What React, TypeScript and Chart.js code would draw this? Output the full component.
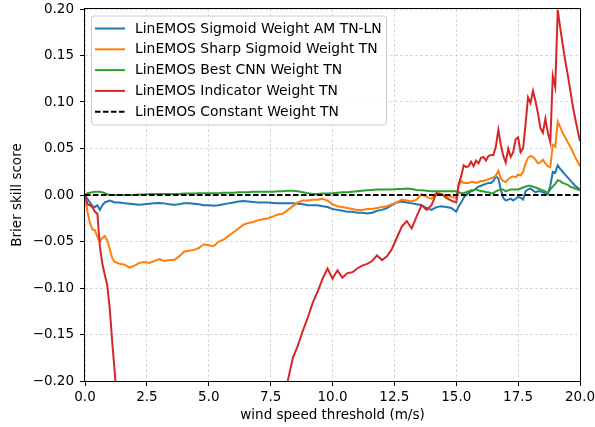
import React, { useEffect, useRef } from "react";
import { Chart, registerables } from "chart.js";

Chart.register(...registerables);

const thresholds = [
  0, 0.1, 0.2, 0.3, 0.4, 0.5, 0.6, 0.7, 0.8, 0.9, 1.0, 1.1, 1.2, 1.3, 1.4,
  1.6, 1.8, 2.0, 2.2, 2.4, 2.6, 2.8, 3.0, 3.2, 3.4,
  3.6, 3.8, 4.0, 4.2, 4.4, 4.6, 4.8, 5.0, 5.2, 5.4,
  5.6, 5.8, 6.0, 6.2, 6.4, 6.6, 6.8, 7.0, 7.2, 7.4,
  7.6, 7.8, 8.0, 8.2, 8.4, 8.6, 8.8, 9.0, 9.2, 9.4,
  9.6, 9.8, 10.0, 10.2, 10.4, 10.6, 10.8, 11.0, 11.2, 11.4,
  11.6, 11.8, 12.0, 12.2, 12.4, 12.6, 12.8, 13.0, 13.2, 13.4,
  13.6, 13.8, 14.0, 14.2, 14.4, 14.6, 14.8, 15.0,
  15.1, 15.2, 15.3, 15.4, 15.5, 15.6, 15.7, 15.8, 15.9, 16.0,
  16.1, 16.2, 16.3, 16.4, 16.5, 16.6, 16.7, 16.8, 16.9, 17.0,
  17.1, 17.2, 17.3, 17.4, 17.5, 17.6, 17.7, 17.8, 17.9, 18.0,
  18.1, 18.2, 18.3, 18.4, 18.5, 18.6, 18.7, 18.8, 18.9, 19.0,
  19.1, 19.2, 19.3, 19.4, 19.5, 19.6, 19.7, 19.8, 19.9, 20.0,
];

const sigmoidAM = [
  0, -0.004, -0.008, -0.012, -0.013, -0.011, -0.016, -0.011, -0.008, -0.007, -0.006, -0.007, -0.008, -0.008, -0.008,
  -0.009, -0.0095, -0.01, -0.0105, -0.01, -0.0095, -0.009, -0.0085, -0.009, -0.01,
  -0.0105, -0.01, -0.009, -0.009, -0.0095, -0.01, -0.011, -0.011, -0.0115, -0.011,
  -0.01, -0.009, -0.008, -0.007, -0.0065, -0.007, -0.0075, -0.008, -0.008, -0.008,
  -0.0085, -0.009, -0.009, -0.009, -0.009, -0.0095, -0.01, -0.011, -0.011, -0.011,
  -0.012, -0.013, -0.015, -0.016, -0.017, -0.018, -0.018, -0.019, -0.019, -0.02,
  -0.019, -0.017, -0.016, -0.014, -0.011, -0.008, -0.007, -0.008, -0.009, -0.01,
  -0.011, -0.014, -0.016, -0.013, -0.012, -0.013, -0.014, -0.018,
  -0.012, -0.008, -0.003, 0.0, 0.002, 0.004, 0.005, 0.007, 0.009, 0.01,
  0.011, 0.012, 0.013, 0.013, 0.015, 0.02, 0.018, 0.006, -0.003, -0.006,
  -0.005, -0.004, -0.006, -0.004, -0.002, -0.003, -0.005, 0.004, 0.006, 0.007,
  0.005, 0.003, 0.004, 0.004, 0.003, 0.002, 0.001, 0.01, 0.025, 0.024,
  0.032, 0.028, 0.025, 0.022, 0.019, 0.016, 0.013, 0.01, 0.008, 0.005,
];

const sharpSigmoid = [
  0, -0.018, -0.03, -0.037, -0.038, -0.045, -0.05, -0.046, -0.044, -0.049, -0.058, -0.068, -0.072, -0.073, -0.074,
  -0.075, -0.078, -0.076, -0.073, -0.072, -0.073, -0.071, -0.069, -0.071, -0.07,
  -0.07, -0.066, -0.061, -0.06, -0.059, -0.057, -0.053, -0.054, -0.055, -0.05,
  -0.048, -0.044, -0.04, -0.036, -0.032, -0.03, -0.029, -0.027, -0.026, -0.025,
  -0.023, -0.021, -0.02, -0.016, -0.012, -0.008, -0.006, -0.006, -0.005, -0.005,
  -0.004, -0.006, -0.01, -0.012, -0.013, -0.014, -0.015, -0.016, -0.016, -0.015,
  -0.015, -0.014, -0.013, -0.012, -0.01, -0.008, -0.005, -0.006, -0.007, -0.005,
  0.001, -0.002, -0.004, 0.002, 0.001, -0.001, -0.002, -0.003,
  0.01, 0.015, 0.013, 0.013, 0.013, 0.014, 0.014, 0.013, 0.014, 0.015,
  0.015, 0.016, 0.017, 0.018, 0.019, 0.021, 0.026, 0.018, 0.015, 0.014,
  0.017, 0.019, 0.02, 0.019, 0.022, 0.021, 0.025, 0.034, 0.04, 0.042,
  0.041, 0.038, 0.034, 0.035, 0.038, 0.034, 0.031, 0.03, 0.054, 0.052,
  0.079, 0.073, 0.067, 0.062, 0.057, 0.052, 0.047, 0.041, 0.036, 0.031,
];

const bestCNN = [
  0, 0.002, 0.0025, 0.003, 0.0035, 0.0035, 0.0035, 0.003, 0.002, 0.001, 0.0, 0.0, 0.0, 0.0, 0.0,
  0.0, 0.0, 0.0, 0.0005, 0.0005, 0.001, 0.001, 0.001, 0.001, 0.001,
  0.001, 0.001, 0.0015, 0.0015, 0.0015, 0.002, 0.002, 0.002, 0.002, 0.002,
  0.0025, 0.0025, 0.0025, 0.003, 0.003, 0.003, 0.0035, 0.0035, 0.0035, 0.0035,
  0.0035, 0.004, 0.004, 0.0045, 0.0045, 0.004, 0.003, 0.002, 0.001, 0.0012,
  0.0015, 0.0015, 0.002, 0.0025, 0.003, 0.003, 0.0035, 0.004, 0.0045, 0.005,
  0.0055, 0.006, 0.006, 0.006, 0.006, 0.0065, 0.0065, 0.007, 0.0065, 0.0055,
  0.005, 0.0045, 0.004, 0.004, 0.004, 0.004, 0.004, 0.004,
  0.003, 0.002, 0.002, 0.003, 0.004, 0.005, 0.005, 0.006, 0.005, 0.004,
  0.004, 0.003, 0.003, 0.002, 0.002, 0.004, 0.005, 0.006, 0.006, 0.004,
  0.005, 0.006, 0.006, 0.006, 0.006, 0.007, 0.008, 0.009, 0.01, 0.01,
  0.009, 0.008, 0.007, 0.006, 0.005, 0.004, 0.002, 0.006, 0.009, 0.012,
  0.016, 0.015, 0.013, 0.012, 0.011, 0.009, 0.008, 0.007, 0.006, 0.005,
];

const indicator = [
  0, -0.01, -0.011, -0.013, -0.018, -0.02, -0.055, -0.074, -0.086, -0.097, -0.122, -0.158, -0.19, -0.225, -0.26,
  -0.3, -0.34, -0.37, -0.4, -0.42, -0.44, -0.45, -0.46, -0.46, -0.46,
  -0.46, -0.46, -0.46, -0.45, -0.45, -0.44, -0.44, -0.43, -0.42, -0.41,
  -0.4, -0.39, -0.38, -0.36, -0.35, -0.34, -0.32, -0.3, -0.28, -0.265,
  -0.25, -0.235, -0.218, -0.199, -0.175, -0.162, -0.146, -0.132, -0.116, -0.104,
  -0.09, -0.079, -0.09, -0.081, -0.089, -0.084, -0.083, -0.079, -0.076, -0.074,
  -0.071, -0.065, -0.07, -0.066, -0.058, -0.046, -0.034, -0.028, -0.036, -0.023,
  -0.011, -0.016, -0.011, 0.002, 0.001, -0.003, -0.006, -0.008,
  0.012, 0.02, 0.032, 0.03, 0.031, 0.036, 0.031, 0.037, 0.034, 0.04,
  0.041, 0.037, 0.042, 0.043, 0.043, 0.052, 0.07, 0.054, 0.042, 0.035,
  0.05, 0.041, 0.046, 0.06, 0.062, 0.046, 0.05, 0.076, 0.105, 0.099,
  0.112, 0.101, 0.088, 0.072, 0.067, 0.082, 0.067, 0.057, 0.128, 0.116,
  0.199, 0.18, 0.162, 0.145, 0.13, 0.114, 0.097, 0.083, 0.07, 0.058,
];

const constantX = [0, 20];
const constantWeight = [0, 0];

const seriesLabels = [
  "LinEMOS Sigmoid Weight AM TN-LN",
  "LinEMOS Sharp Sigmoid Weight TN",
  "LinEMOS Best CNN Weight TN",
  "LinEMOS Indicator Weight TN",
  "LinEMOS Constant Weight TN",
];
const seriesColors = ["#1f77b4", "#ff7f0e", "#2ca02c", "#d62728", "#000000"];

const xTicks = [0, 2.5, 5, 7.5, 10, 12.5, 15, 17.5, 20];
const yTicks = [-0.2, -0.15, -0.1, -0.05, 0, 0.05, 0.1, 0.15, 0.2];

const FONT = "DejaVu Sans";
const FS = 13.5;
const LEGEND_FS = 13.9;

const toPoints = (xs: number[], ys: number[]) => xs.map((x, i) => ({ x, y: ys[i] }));

const framePlugin = {
  id: "frameAndLegend",
  afterDraw(chart: any) {
    const { ctx, chartArea } = chart;
    const { left, top, right, bottom } = chartArea;
    ctx.save();
    ctx.strokeStyle = "#000";
    ctx.lineWidth = 1;
    ctx.setLineDash([]);
    const l = Math.round(left) - 0.5;
    const t = Math.round(top) - 0.5;
    const r = Math.round(right) + 0.5;
    const b = Math.round(bottom) + 0.5;
    ctx.strokeRect(l, t, r - l, b - t);

    // legend box
    const bx = left + 6.5;
    const by = top + 7;
    const bw = 295;
    const bh = 109;
    const rad = 3;
    ctx.beginPath();
    ctx.moveTo(bx + rad, by);
    ctx.lineTo(bx + bw - rad, by);
    ctx.arcTo(bx + bw, by, bx + bw, by + rad, rad);
    ctx.lineTo(bx + bw, by + bh - rad);
    ctx.arcTo(bx + bw, by + bh, bx + bw - rad, by + bh, rad);
    ctx.lineTo(bx + rad, by + bh);
    ctx.arcTo(bx, by + bh, bx, by + bh - rad, rad);
    ctx.lineTo(bx, by + rad);
    ctx.arcTo(bx, by, bx + rad, by, rad);
    ctx.closePath();
    ctx.fillStyle = "rgba(255,255,255,0.8)";
    ctx.fill();
    ctx.strokeStyle = "#cccccc";
    ctx.lineWidth = 1;
    ctx.stroke();

    ctx.font = `${LEGEND_FS}px "${FONT}"`;
    ctx.textBaseline = "middle";
    ctx.textAlign = "left";
    chart.data.datasets.forEach((ds: any, i: number) => {
      const y = by + 12.5 + i * 20.8;
      ctx.beginPath();
      ctx.strokeStyle = ds.borderColor;
      ctx.lineWidth = 2;
      ctx.setLineDash(ds.borderDash || []);
      ctx.moveTo(left + 10, y);
      ctx.lineTo(left + 40, y);
      ctx.stroke();
      ctx.setLineDash([]);
      ctx.fillStyle = "#000";
      ctx.fillText(ds.label, left + 50, y + 0.5);
    });
    ctx.restore();
  },
};

export default function App() {
  const ref = useRef<HTMLCanvasElement | null>(null);

  useEffect(() => {
    document.body.style.margin = "0";
    const canvas = ref.current;
    if (!canvas) return;
    const seriesData = [sigmoidAM, sharpSigmoid, bestCNN, indicator];
    const datasets: any[] = seriesData.map((ys, i) => ({
      label: seriesLabels[i],
      data: toPoints(thresholds, ys),
      borderColor: seriesColors[i],
      backgroundColor: seriesColors[i],
      borderWidth: 2,
      pointRadius: 0,
      tension: 0,
      fill: false,
      order: 5 - i,
    }));
    datasets.push({
      label: seriesLabels[4],
      data: toPoints(constantX, constantWeight),
      borderColor: seriesColors[4],
      backgroundColor: seriesColors[4],
      borderWidth: 2,
      borderDash: [5.5, 2.5],
      pointRadius: 0,
      tension: 0,
      fill: false,
      order: 1,
    });

    const chart = new Chart(canvas, {
      type: "line",
      data: { datasets },
      options: {
        animation: false,
        responsive: false,
        devicePixelRatio: 1,
        layout: { padding: { top: 9, right: 15, left: 0, bottom: 0 } },
        plugins: {
          legend: { display: false },
          tooltip: { enabled: false },
        },
        scales: {
          x: {
            type: "linear",
            min: 0,
            max: 20,
            afterBuildTicks: (scale: any) => {
              scale.ticks = xTicks.map((v) => ({ value: v }));
            },
            afterFit: (scale: any) => {
              scale.height = 46;
              scale.paddingLeft = 0;
              scale.paddingRight = 0;
            },
            ticks: {
              callback: (v: any) => Number(v).toFixed(1),
              color: "#000",
              font: { family: FONT, size: FS },
              padding: 3,
              maxRotation: 0,
              autoSkip: false,
            },
            grid: {
              color: "#cfcfcf",
              lineWidth: 0.8,
              tickColor: "#000",
              tickLength: 5,
              tickWidth: 1,
            },
            border: { display: false, dash: [3, 2] },
            title: {
              display: true,
              text: "wind speed threshold (m/s)",
              color: "#000",
              font: { family: FONT, size: FS },
              padding: { top: 0, bottom: 3 },
            },
          },
          y: {
            type: "linear",
            min: -0.2,
            max: 0.2,
            afterBuildTicks: (scale: any) => {
              scale.ticks = yTicks.map((v) => ({ value: v }));
            },
            afterFit: (scale: any) => {
              scale.width = 85;
              scale.paddingTop = 0;
              scale.paddingBottom = 0;
            },
            ticks: {
              callback: (v: any) => {
                const n = Number(v);
                if (Math.abs(n) < 1e-9) return "0.00";
                const s = Math.abs(n).toFixed(2);
                return n < 0 ? "\u2212" + s : s;
              },
              color: "#000",
              font: { family: FONT, size: FS },
              padding: 6,
              autoSkip: false,
            },
            grid: {
              color: "#cfcfcf",
              lineWidth: 0.8,
              tickColor: "#000",
              tickLength: 5,
              tickWidth: 1,
            },
            border: { display: false, dash: [3, 2] },
            title: {
              display: true,
              text: "Brier skill score",
              color: "#000",
              font: { family: FONT, size: FS },
              padding: { top: 9, bottom: 0 },
            },
          },
        },
      },
      plugins: [framePlugin],
    });
    return () => chart.destroy();
  }, []);

  return (
    <div style={{ position: "fixed", left: 0, top: 0, width: 595, height: 427, background: "#fff" }}>
      <canvas ref={ref} width={595} height={427} style={{ display: "block", width: 595, height: 427 }} />
    </div>
  );
}
